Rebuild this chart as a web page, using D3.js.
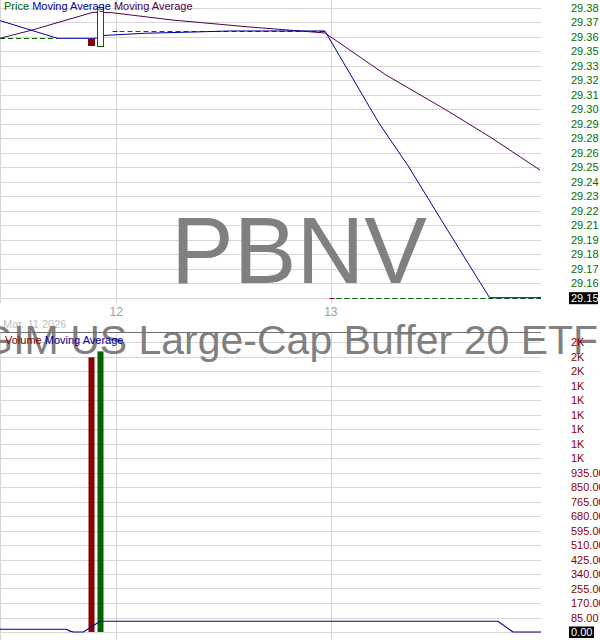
<!DOCTYPE html>
<html><head><meta charset="utf-8">
<script src="https://cdn.jsdelivr.net/npm/d3@7"></script>
<style>html,body{margin:0;padding:0;background:#fff;overflow:hidden}svg{display:block}</style>
</head><body>
<script>
// ---------- DATA ----------
const symbol = "PBNV";
const fundName = "PGIM US Large-Cap Buffer 20 ETF";
const dateLabel = "Mar. 11 2026";
const dayTicks = ["2026-03-12T00:00", "2026-03-13T00:00"];
const priceTickLabels = ["29.15","29.16","29.17","29.18","29.19","29.21","29.22","29.23","29.24","29.25","29.26","29.28","29.29","29.30","29.31","29.32","29.33","29.35","29.36","29.37","29.38"];
const volumeTickLabels = ["0.00","85.00","170.00","255.00","340.00","425.00","510.00","595.00","680.00","765.00","850.00","935.00","1K","1K","1K","1K","1K","1K","2K","2K","2K"];
// candles: time, open, high, low, close
const candleTimes = ["2026-03-11T21:10", "2026-03-11T22:13"];
const candleOpen  = [29.3553, 29.3497];
const candleHigh  = [29.3553, 29.3803];
const candleLow   = [29.3505, 29.3497];
const candleClose = [29.3505, 29.3803];
const candleVolume = [1610, 1645];
// price (daily close step lines)
const priceSteps = [
  {start: "2026-03-11T11:00", end: "2026-03-11T17:25", value: 29.3556, redStart: false},
  {start: "2026-03-11T23:35", end: "2026-03-12T23:20", value: 29.3614, redStart: true},
  {start: "2026-03-12T23:50", end: "2026-03-13T23:30", value: 29.15, redStart: true}
];
// moving average 1 (blue)
const ma1Times  = ["2026-03-11T11:00","2026-03-11T17:25","2026-03-11T21:46","2026-03-11T22:06","2026-03-12T00:07","2026-03-12T03:14","2026-03-12T08:49","2026-03-12T12:44","2026-03-12T23:20","2026-03-13T05:22","2026-03-13T08:43","2026-03-13T12:50","2026-03-13T17:45","2026-03-13T23:30"];
const ma1Values = [29.3696, 29.3556, 29.3556, 29.3577, 29.3584, 29.3596, 29.3606, 29.3614, 29.3614, 29.2885, 29.2536, 29.2060, 29.15, 29.15];
// moving average 2 (purple)
const ma2Times  = ["2026-03-11T11:00","2026-03-11T14:38","2026-03-11T21:24","2026-03-11T23:30","2026-03-12T06:14","2026-03-12T14:51","2026-03-12T23:21","2026-03-13T06:10","2026-03-13T12:53","2026-03-13T17:48","2026-03-13T23:23"];
const ma2Values = [29.3556, 29.3622, 29.3762, 29.3759, 29.3701, 29.3646, 29.3598, 29.3265, 29.2988, 29.2774, 29.2512];
// volume moving average
const vmaTimes  = ["2026-03-11T11:00","2026-03-11T18:26","2026-03-11T18:50","2026-03-11T19:13","2026-03-11T20:20","2026-03-11T22:11","2026-03-13T18:41","2026-03-13T20:22","2026-03-13T23:30"];
const vmaValues = [16, 16, 5, 0, 0, 63, 63, 0, 0];

// ---------- LAYOUT ----------
const W = 600, H = 640;
const plotR = 541;
const parse = d3.isoParse;
const svg = d3.select("body").append("svg").attr("width", W).attr("height", H)
  .style("font-family", "'Liberation Sans', Arial, sans-serif");

const x = d3.scaleTime()
  .domain([parse("2026-03-11T11:00"), parse("2026-03-13T23:30")])
  .range([0, plotR]);
const yP = d3.scaleLinear().domain([29.15, 29.38]).range([297.7, 7.5]);
const yV = d3.scaleLinear().domain([0, 1700]).range([632, 342]);

const gridC = "#d6d6d6";
const green = "#006400", red = "#8b0000", blue = "#00009a", purple = "#500050";

const pTicks = d3.range(priceTickLabels.length).map(i => 29.15 + i * (0.23 / (priceTickLabels.length - 1)));
const vTicks = d3.range(volumeTickLabels.length).map(i => i * 85);

const gTop = svg.append("g");
gTop.selectAll("line.h").data(pTicks).join("line")
  .attr("x1", 0).attr("x2", plotR).attr("y1", d => Math.round(yP(d)) + 0.5).attr("y2", d => Math.round(yP(d)) + 0.5)
  .attr("stroke", gridC);
gTop.selectAll("line.v").data(dayTicks).join("line")
  .attr("x1", d => Math.round(x(parse(d))) + 0.5).attr("x2", d => Math.round(x(parse(d))) + 0.5)
  .attr("y1", 0).attr("y2", 303).attr("stroke", gridC);
gTop.append("line").attr("x1", 0.5).attr("x2", 0.5).attr("y1", 0).attr("y2", 303).attr("stroke", gridC);

const gBot = svg.append("g");
gBot.selectAll("line.h").data(vTicks).join("line")
  .attr("x1", 0).attr("x2", plotR).attr("y1", d => Math.round(yV(d)) + 0.5).attr("y2", d => Math.round(yV(d)) + 0.5)
  .attr("stroke", gridC);
gBot.selectAll("line.v").data(dayTicks).join("line")
  .attr("x1", d => Math.round(x(parse(d))) + 0.5).attr("x2", d => Math.round(x(parse(d))) + 0.5)
  .attr("y1", 332).attr("y2", H).attr("stroke", gridC);
gBot.append("line").attr("x1", 0.5).attr("x2", 0.5).attr("y1", 332).attr("y2", H).attr("stroke", gridC);

// x labels
svg.selectAll("text.xl").data(dayTicks).join("text")
  .attr("x", d => x(parse(d))).attr("y", 315.5).attr("text-anchor", "middle")
  .attr("font-size", 12).attr("fill", "#a0a0a0").text(d => d3.timeFormat("%-d")(parse(d)));
svg.append("text").attr("x", 3).attr("y", 327.5).attr("font-size", 11).attr("fill", "#c0c0c0").text(dateLabel);

// watermarks
svg.append("text").attr("x", 299).attr("y", 283).attr("text-anchor", "middle")
  .attr("font-size", 94).attr("fill", "#808080").text(symbol);
svg.append("text").attr("x", 276).attr("y", 354).attr("text-anchor", "middle")
  .attr("font-size", 41).attr("fill", "#808080").text(fundName);

// separator
svg.append("line").attr("x1", 0).attr("x2", plotR).attr("y1", 332.5).attr("y2", 332.5).attr("stroke", "#707070");

// clip
svg.append("clipPath").attr("id", "cTop").append("rect").attr("x", 0).attr("y", 0).attr("width", plotR + 1).attr("height", 304);
svg.append("clipPath").attr("id", "cBot").append("rect").attr("x", 0).attr("y", 333).attr("width", plotR + 1).attr("height", 307);

const gPrice = svg.append("g").attr("clip-path", "url(#cTop)");
priceSteps.forEach(s => {
  const x0 = x(parse(s.start)), x1 = x(parse(s.end)), yy = Math.round(yP(s.value)) + 0.5;
  let gx = x0;
  if (s.redStart) {
    gPrice.append("line").attr("x1", x0).attr("x2", x0 + 5).attr("y1", yy).attr("y2", yy).attr("stroke", red);
    gx = x0 + 7;
  }
  gPrice.append("line").attr("x1", gx).attr("x2", x1).attr("y1", yy).attr("y2", yy)
    .attr("stroke", green).attr("stroke-dasharray", "5,3");
});
const mkLine = (ts, vs, ys) => d3.line().x((d, i) => x(parse(ts[i]))).y((d, i) => ys(vs[i]))(vs);
gPrice.append("path").attr("d", mkLine(ma2Times, ma2Values, yP)).attr("fill", "none").attr("stroke", purple);
gPrice.append("path").attr("d", mkLine(ma1Times, ma1Values, yP)).attr("fill", "none").attr("stroke", blue);
const cw = 6;
candleTimes.forEach((t, i) => {
  const cx = Math.round(x(parse(t)));
  const up = candleClose[i] >= candleOpen[i];
  const y0 = yP(Math.max(candleOpen[i], candleClose[i])), y1 = yP(Math.min(candleOpen[i], candleClose[i]));
  gPrice.append("line").attr("x1", cx + 0.5).attr("x2", cx + 0.5).attr("y1", yP(candleHigh[i])).attr("y2", yP(candleLow[i])).attr("stroke", up ? green : red);
  gPrice.append("rect").attr("x", cx - cw / 2 + 0.5).attr("y", Math.round(y0) + 0.5).attr("width", cw).attr("height", Math.max(1, Math.round(y1 - y0)))
    .attr("fill", up ? "#fff" : red).attr("stroke", up ? green : red);
});

// legend
const lg = svg.append("text").attr("x", 4).attr("y", 10).attr("font-size", 11);
lg.append("tspan").attr("fill", green).text("Price ");
lg.append("tspan").attr("fill", blue).text("Moving Average ");
lg.append("tspan").attr("fill", purple).text("Moving Average");

// volume
const gVol = svg.append("g").attr("clip-path", "url(#cBot)");
candleTimes.forEach((t, i) => {
  const cx = Math.round(x(parse(t)));
  const up = candleClose[i] >= candleOpen[i];
  gVol.append("rect").attr("x", cx - cw / 2 + 0.5).attr("y", yV(candleVolume[i])).attr("width", cw)
    .attr("height", yV(0) - yV(candleVolume[i])).attr("fill", up ? green : red);
});
gVol.append("path").attr("d", mkLine(vmaTimes, vmaValues, yV)).attr("fill", "none").attr("stroke", blue).attr("stroke-width", 1.2);
const lv = svg.append("text").attr("x", 5).attr("y", 344).attr("font-size", 11);
lv.append("tspan").attr("fill", red).text("Volume ");
lv.append("tspan").attr("fill", blue).text("Moving Average");

// y axes labels
const pl = svg.append("g");
pTicks.forEach((v, i) => {
  const yy = yP(v);
  if (i === 0) {
    pl.append("rect").attr("x", 569).attr("y", yy - 5.5).attr("width", 29).attr("height", 12).attr("fill", "#000");
  }
  pl.append("text").attr("x", 571).attr("y", yy + 4).attr("font-size", 11)
    .attr("fill", i === 0 ? "#fff" : "#007000").text(priceTickLabels[i]);
});
vTicks.forEach((v, i) => {
  const yy = yV(v);
  if (i === 0) {
    pl.append("rect").attr("x", 569).attr("y", yy - 5.5).attr("width", 25).attr("height", 11.5).attr("fill", "#000");
  }
  pl.append("text").attr("x", 571).attr("y", yy + 4).attr("font-size", 11)
    .attr("fill", i === 0 ? "#fff" : red).text(volumeTickLabels[i]);
});
</script>
</body></html>
